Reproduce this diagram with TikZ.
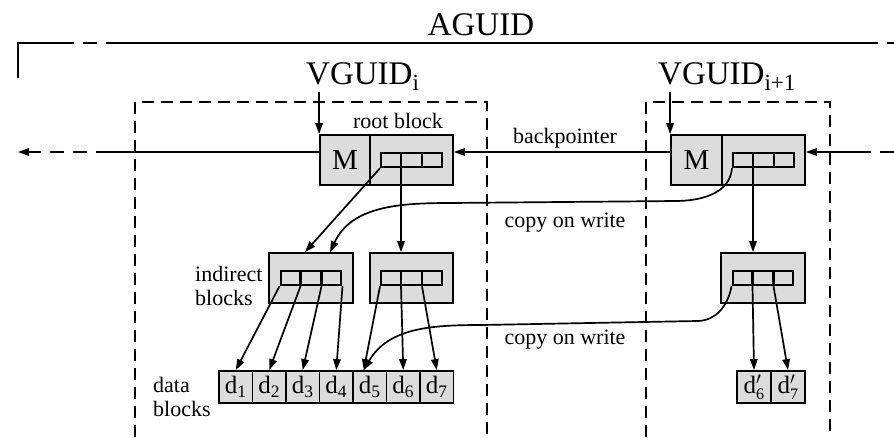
\documentclass[tikz,border=0pt]{standalone}
\usepackage{fontspec}
\setmainfont{Liberation Serif}
\usetikzlibrary{positioning,arrows.meta,shapes.multipart}
\definecolor{blkgray}{HTML}{DCDCDC}

\begin{document}
\begin{tikzpicture}[x=1pt, y=1pt,
  blk/.style={draw, line width=1.8pt, fill=blkgray, inner sep=0pt,
              minimum height=50pt, font=\fontsize{29}{30}\selectfont},
  ptrcells/.style={rectangle split, rectangle split horizontal,
                rectangle split parts=3, draw, line width=2.4pt, inner sep=0pt,
                rectangle split empty part width=14pt,
                rectangle split empty part height=14pt,
                rectangle split empty part depth=0pt},
  dcell/.style={draw, line width=1.8pt, fill=blkgray, inner sep=0pt,
                minimum width=33.5pt, minimum height=32pt,
                font=\fontsize{25}{26}\selectfont},
  lbl/.style={inner sep=0pt, align=left, font=\fontsize{22}{24}\selectfont},
  title/.style={inner sep=1pt, font=\fontsize{33}{36}\selectfont},
  edge/.style={line width=1.7pt, -{Triangle[length=11pt,width=7.5pt]}},
  plain/.style={line width=1.8pt},
  zone/.style={line width=2pt, dash pattern=on 12pt off 7pt},
]
\useasboundingbox (0,0) rectangle (894,-437);

% AGUID frame
\node[title, anchor=base] (aguid) at (481,-35) {AGUID};
\draw[plain] (18,-78) -- (18,-43) -- (60,-43);
\draw[plain, dash pattern=on 14pt off 9pt] (60,-43) -- (110,-43);
\draw[plain] (110,-43) -- (864,-43);
\draw[plain, dash pattern=on 14pt off 9pt] (864,-43) -- (894,-43);

% Version zones
\draw[zone] (135,-437) -- (135,-102) -- (487,-102) -- (487,-437);
\draw[zone] (646,-437) -- (646,-102) -- (830,-102) -- (830,-437);
\node[title, anchor=base west] (vguidA) at (305,-84) {VGUID\textsubscript{i}};
\node[title, anchor=base west] (vguidB) at (657,-84) {VGUID\textsubscript{i+1}};

% Row 1: root blocks
\node[blk, minimum width=50pt] (mA) at (345,-160) {M};
\node[blk, minimum width=83pt] (pA) at (411.5,-160) {};
\node[ptrcells] (cA) at (pA.center) {};
\node[lbl, anchor=base] (rootlbl) at (398,-128) {root block};

\node[blk, minimum width=51pt] (mR) at (696.5,-160) {M};
\node[blk, minimum width=83pt] (pR) at (763.5,-160) {};
\node[ptrcells] (cR) at (pR.center) {};

% Row 2: indirect blocks
\node[blk, minimum width=84pt] (ind1) at (311,-278) {};
\node[ptrcells] (ci1) at (ind1.center) {};
\node[blk, minimum width=83pt] (ind2) at (411.5,-278) {};
\node[ptrcells] (ci2) at (ind2.center) {};
\node[blk, minimum width=84pt] (indR) at (763,-278) {};
\node[ptrcells] (ciR) at (indR.center) {};
\node[lbl, anchor=west] (indlbl) at (195,-286) {indirect\\blocks};

% Row 3: data blocks
\foreach \n in {1,...,7}
  \node[dcell] (d\n) at ({219+33.5*(\n-0.5)},-387) {d\textsubscript{\n}};
\node[dcell] (dR6) at (754,-387)
  {d$'_{\hbox{\fontsize{16}{16}\selectfont 6}}$};
\node[dcell] (dR7) at (788,-387)
  {d$'_{\hbox{\fontsize{16}{16}\selectfont 7}}$};
\node[lbl, anchor=west] (datalbl) at (153,-397) {data\\blocks};

% Edges from the version ids
\draw[edge] (mA.north west |- vguidA.south) -- (mA.north west);
\draw[edge] (mR.north west |- vguidB.south) -- (mR.north west);

% Back pointers
\coordinate (outL) at (18,-152);
\coordinate (brkL) at (110,-152);
\coordinate (inR) at (894,-152);
\coordinate (brkR) at (864,-152);
\draw[plain] ([yshift=8pt]mA.west) -- (brkL);
\draw[edge, dash pattern=on 14pt off 9pt] (brkL) -- (outL);
\draw[edge] ([yshift=8pt]mR.west) -- ([yshift=8pt]pA.east);
\node[lbl, anchor=base] (bplbl) at (565,-143) {backpointer};
\draw[plain, dash pattern=on 14pt off 9pt] (inR) -- (brkR);
\draw[edge] (brkR) -- ([yshift=8pt]pR.east);

% Root -> indirect
\draw[edge] (cA.south west) -- ([xshift=-6pt]ind1.north);
\draw[edge] (cA.one split south) -- (cA.one split south |- ind2.north);
\draw[edge] (cR.one split south) -- (cR.one split south |- indR.north);

% Indirect -> data
\draw[edge] (ci1.south west) -- (d1.north);
\draw[edge] (ci1.one split south) -- (d2.north);
\draw[edge] (ci1.two split south) -- (d3.north);
\draw[edge] (ci1.south east) -- (d4.north);
\draw[edge] (ci2.south west) -- ([xshift=-6pt]d5.north);
\draw[edge] (ci2.one split south) -- (d6.north);
\draw[edge] (ci2.two split south) -- (d7.north);
\draw[edge] (ciR.one split south) -- (dR6.north);
\draw[edge] (ciR.two split south) -- (dR7.north);

% Copy on write (shared blocks)
\coordinate (cw1a) at (675,-201);
\coordinate (cw1b) at (450,-203);
\draw[edge] (cR.south west) to[out=-95,in=0] (cw1a) -- (cw1b)
  to[out=180,in=65] ([xshift=19pt]ind1.north);
\node[lbl, anchor=base] (cowlbl1) at (565,-227) {copy on write};
\coordinate (cw2a) at (697,-321);
\coordinate (cw2b) at (482,-325);
\draw[edge] (ciR.south west) to[out=-100,in=0] (cw2a) -- (cw2b)
  to[out=180,in=60] ([xshift=-6pt]d5.north);
\node[lbl, anchor=base] (cowlbl2) at (565,-344) {copy on write};

\end{tikzpicture}
\end{document}
